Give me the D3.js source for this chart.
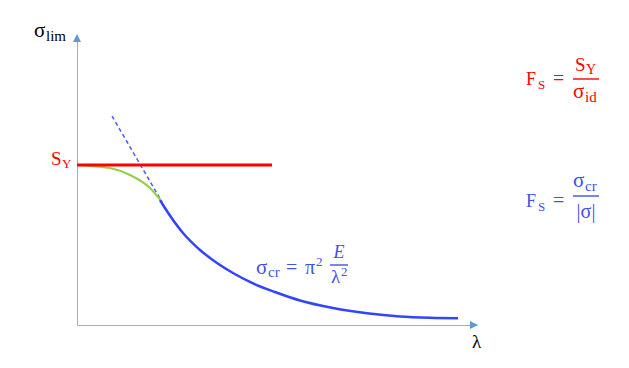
<!DOCTYPE html>
<html>
<head>
<meta charset="utf-8">
<script src="https://cdn.jsdelivr.net/npm/d3@7"></script>
<style>
  body { margin: 0; background: #fff; }
  text { font-family: "Liberation Serif", "DejaVu Serif", serif; }
</style>
</head>
<body>
<svg id="chart" width="629" height="368"></svg>
<script>
// curve data, sigma in units where S_Y = 100
var eulerLambda = [20.75, 21.5, 26.5, 30.75, 35, 39, 43.25, 49.5, 55.75, 64, 72.5, 80.75, 88.25, 95.25];
var eulerSigma  = [78, 75, 57.5, 46.9, 38.75, 32.5, 26.9, 20.6, 15.3, 10.6, 7.3, 5.3, 4.5, 4.2];

var johnsonLambda = [0, 3.25, 8.25, 13.25, 18.25, 21.25];
var johnsonSigma  = [100, 99.4, 98.1, 93.75, 85.6, 76.9];

var dashLambda = [8.75, 21.25];
var dashSigma  = [130.6, 76.9];

var yieldLambda = [0, 48.75];
var yieldSigma  = [100, 100];

var svg = d3.select("#chart"),
    margin = {top: 35, right: 152, bottom: 43, left: 77},
    width = +svg.attr("width") - margin.left - margin.right,
    height = +svg.attr("height") - margin.top - margin.bottom,
    g = svg.append("g").attr("transform", "translate(" + margin.left + "," + margin.top + ")");

var x = d3.scaleLinear().domain([0, 100]).range([0, width]);
var y = d3.scaleLinear().domain([0, 181.25]).range([height, 0]);

var axisColor = "#8db3e2";

// axes without ticks
g.append("g")
    .attr("transform", "translate(0," + height + ")")
    .call(d3.axisBottom(x).ticks(0).tickSize(0).tickSizeOuter(0))
    .call(function (a) { a.select(".domain").attr("stroke", axisColor); });
g.append("g")
    .call(d3.axisLeft(y).ticks(0).tickSize(0).tickSizeOuter(0))
    .call(function (a) { a.select(".domain").attr("stroke", axisColor); });

// arrow heads
g.append("path")
    .attr("d", "M" + (width + 1) + "," + height + "l-8,-4l0,8z")
    .attr("fill", "#5b9bd5");
g.append("path")
    .attr("d", "M0," + (-1) + "l-4,8l8,0z")
    .attr("fill", "#5b9bd5");

function pts(xs, ys) {
    return xs.map(function (d, i) { return [x(d), y(ys[i])]; });
}
var line = d3.line().curve(d3.curveMonotoneX);

g.append("path")
    .attr("d", d3.line()(pts(dashLambda, dashSigma)))
    .attr("fill", "none")
    .attr("stroke", "#4a5cff")
    .attr("stroke-width", 1.5)
    .attr("stroke-dasharray", "4,3");

g.append("path")
    .attr("d", line(pts(johnsonLambda, johnsonSigma)))
    .attr("fill", "none")
    .attr("stroke", "#92d050")
    .attr("stroke-width", 2.2);

g.append("path")
    .attr("d", line(pts(eulerLambda, eulerSigma)))
    .attr("fill", "none")
    .attr("stroke", "#3344ff")
    .attr("stroke-width", 2.5);

g.append("path")
    .attr("d", d3.line()(pts(yieldLambda, yieldSigma)))
    .attr("fill", "none")
    .attr("stroke", "#ff0000")
    .attr("stroke-width", 3);

// text pieces placed one by one
function put(xp, yp, txt, size, color, anchor, italic) {
    return svg.append("text")
        .attr("x", xp).attr("y", yp)
        .attr("font-size", size)
        .attr("fill", color)
        .attr("text-anchor", anchor || "start")
        .attr("font-style", italic ? "italic" : null)
        .text(txt);
}
function bar(x1, x2, yp, color) {
    svg.append("line").attr("x1", x1).attr("x2", x2).attr("y1", yp).attr("y2", yp)
        .attr("stroke", color).attr("stroke-width", 1.4);
}

var red = "#ff0000", blue = "#3f51e6";

put(34, 37, "σ", 21, "#000");
put(46, 41, "lim", 15, "#000");

put(51, 165, "S", 19, red);
put(62, 168, "Y", 13, red);

put(472, 348, "λ", 19, "#000");

// Euler formula
put(256, 274, "σ", 21, blue);
put(268, 277, "cr", 15, blue);
put(286, 274, "=", 20, blue);
put(305, 274, "π", 20, blue);
put(316, 266, "2", 13, blue);
bar(330, 348, 265, blue);
put(339, 258, "E", 18, blue, "middle", true);
put(331, 283, "λ", 19, blue);
put(341, 276, "2", 13, blue);

// right-hand safety factors
put(526, 85, "F", 18, red);
put(538, 89, "S", 13, red);
put(553, 85, "=", 20, red);
bar(573, 599, 79, red);
put(575, 71, "S", 19, red);
put(586, 74, "Y", 14, red);
put(573, 98, "σ", 21, red);
put(585, 102, "id", 15, red);

put(526, 207, "F", 18, blue);
put(538, 211, "S", 13, blue);
put(553, 207, "=", 20, blue);
bar(573, 599, 196, blue);
put(573, 187, "σ", 21, blue);
put(585, 191, "cr", 15, blue);
put(586, 218, "|σ|", 20, blue, "middle");
</script>
</body>
</html>
